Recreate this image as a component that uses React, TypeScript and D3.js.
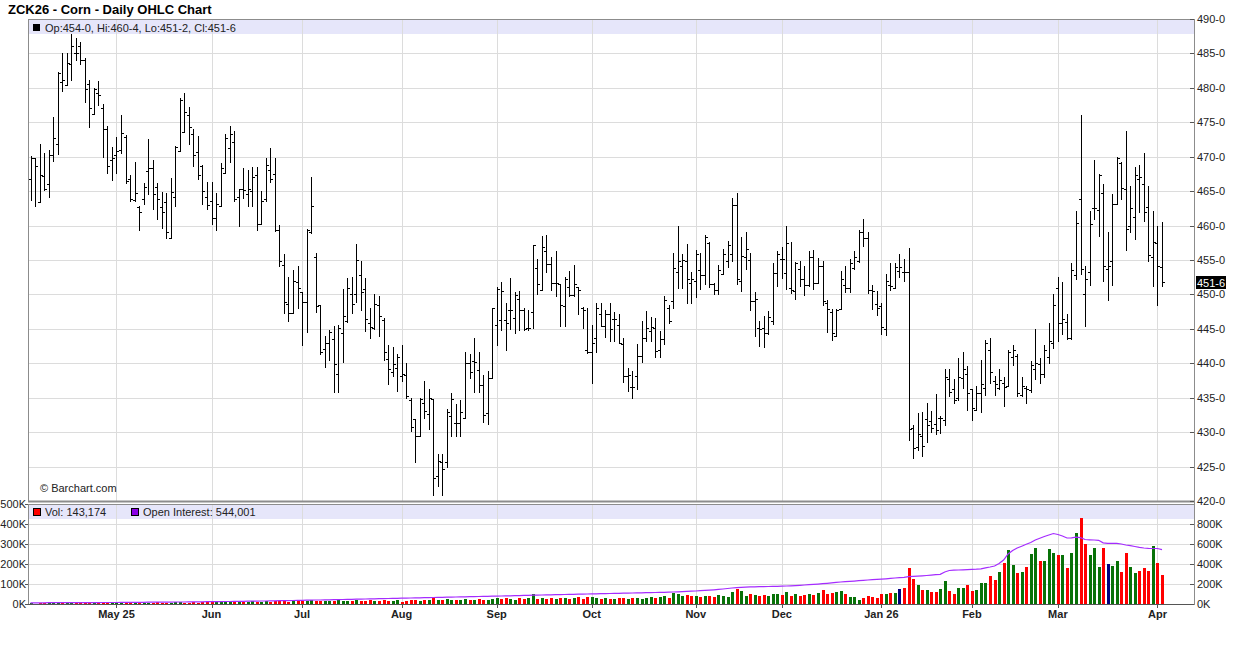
import React from "react";
import * as d3 from "d3";

// ---------- calendar (categories) ----------
const startDay = "2025-04-03";
const endDay = "2026-04-02";
const holidays = [
  "2025-04-18", "2025-05-26", "2025-06-19", "2025-07-04", "2025-09-01",
  "2025-11-27", "2025-12-25", "2026-01-01", "2026-01-19", "2026-02-16",
];
const monthTickLabels = ["May 25", "Jun", "Jul", "Aug", "Sep", "Oct", "Nov", "Dec", "Jan 26", "Feb", "Mar", "Apr"];

// ---------- OHLC (cents/bushel) ----------
const opens = [
  466.7, 469.8, 463.4, 467.2, 466.0, 470.3, 471.9, 480.9, 480.4, 483.4,
  485.0, 486.1, 484.0, 480.5, 476.2, 479.3, 477.1, 474.0, 469.5, 470.3,
  471.0, 472.8, 466.7, 463.7, 462.7, 463.9, 467.9, 468.4, 465.6, 462.7,
  463.4, 458.2, 464.2, 470.8, 473.6, 476.1, 473.3, 470.7, 468.7, 464.2,
  463.5, 461.1, 462.9, 467.7, 471.2, 472.1, 464.2, 465.3, 464.6, 465.0,
  467.3, 460.3, 463.9, 468.1, 467.5, 459.4, 454.3, 448.6, 447.3, 451.8,
  450.3, 448.9, 459.1, 455.5, 448.4, 442.1, 443.0, 443.5, 438.5, 444.4,
  446.2, 450.1, 450.1, 452.8, 450.8, 445.8, 445.1, 448.4, 446.3, 440.6,
  438.7, 439.3, 438.1, 438.3, 434.7, 431.9, 429.4, 434.3, 432.6, 434.8,
  423.6, 425.6, 425.6, 432.4, 431.3, 431.3, 432.0, 440.0, 440.3, 439.0,
  436.8, 432.8, 437.9, 445.5, 446.3, 446.3, 447.7, 446.6, 449.3, 447.7,
  445.1, 447.4, 453.9, 450.6, 456.3, 454.4, 451.6, 451.5, 448.3, 451.1,
  449.9, 451.1, 448.1, 441.9, 441.6, 443.6, 447.2, 445.4, 447.1, 446.4,
  445.5, 442.8, 438.1, 436.5, 438.1, 441.0, 443.7, 444.7, 445.1, 442.0,
  443.5, 448.0, 449.0, 453.2, 454.2, 454.9, 451.7, 452.0, 453.5, 452.8,
  457.4, 451.5, 450.6, 453.0, 454.8, 455.9, 463.0, 452.0, 455.4, 455.0,
  449.0, 445.1, 445.1, 444.4, 446.2, 453.1, 455.1, 453.1, 451.0, 450.5,
  453.7, 452.2, 451.3, 455.4, 451.7, 454.2, 448.7, 447.5, 444.0, 447.9,
  451.3, 450.9, 453.9, 454.8, 459.0, 458.2, 450.7, 448.6, 448.3, 445.0,
  451.4, 450.9, 453.4, 453.2, 453.2, 430.6, 427.9, 429.5, 431.9, 431.6,
  431.2, 432.0, 431.8, 437.7, 436.3, 435.0, 437.8, 438.4, 436.3, 433.2,
  435.7, 436.4, 442.0, 437.4, 436.4, 437.1, 436.7, 440.9, 441.1, 435.4,
  436.4, 436.1, 439.1, 439.9, 438.4, 440.9, 443.0, 451.0, 445.8, 446.0,
  443.7, 452.8, 463.9, 450.0, 453.2, 462.5, 462.2, 464.7, 453.7, 454.8,
  463.2, 469.1, 465.3, 460.0, 461.2, 466.7, 466.0, 462.7, 455.4, 457.5,
  454.0,
];
const highs = [
  470.1, 469.8, 471.8, 470.5, 471.0, 475.8, 482.3, 485.0, 485.0, 487.8,
  487.2, 486.7, 484.4, 481.2, 480.0, 481.0, 477.7, 474.5, 471.4, 472.9,
  476.0, 473.1, 467.4, 469.2, 462.9, 466.2, 472.6, 469.5, 466.2, 464.9,
  464.7, 466.9, 471.5, 478.5, 479.3, 477.2, 474.0, 473.0, 468.8, 466.3,
  466.3, 464.7, 469.1, 473.3, 474.4, 473.7, 465.3, 468.4, 468.1, 468.5,
  468.5, 465.0, 469.8, 471.2, 469.8, 460.1, 455.9, 452.5, 453.5, 454.2,
  450.4, 459.5, 467.0, 456.0, 448.4, 444.0, 444.8, 445.4, 445.6, 450.8,
  452.4, 452.6, 457.3, 454.8, 452.4, 448.0, 450.1, 449.7, 446.6, 442.7,
  442.3, 441.3, 442.7, 440.0, 435.0, 431.9, 435.0, 437.5, 436.2, 434.8,
  426.8, 426.8, 433.4, 435.7, 434.1, 434.7, 441.6, 441.4, 443.6, 441.7,
  438.3, 438.9, 448.0, 451.1, 451.8, 448.7, 452.4, 450.4, 450.5, 448.0,
  447.8, 457.2, 455.1, 458.5, 458.7, 455.5, 456.3, 451.5, 452.6, 453.4,
  454.3, 451.1, 448.2, 448.0, 445.6, 448.7, 448.7, 447.7, 448.7, 447.4,
  447.2, 443.7, 439.3, 438.9, 442.8, 446.2, 447.6, 446.7, 446.6, 444.7,
  449.7, 448.4, 456.0, 459.9, 455.9, 457.3, 453.2, 456.4, 456.0, 458.6,
  457.6, 451.6, 454.3, 456.6, 457.7, 464.0, 464.7, 458.3, 459.0, 456.0,
  450.3, 446.2, 446.8, 447.6, 454.5, 456.3, 456.9, 460.0, 457.6, 454.7,
  454.8, 454.2, 456.3, 456.5, 455.3, 454.8, 449.2, 447.9, 447.9, 453.4,
  454.1, 455.2, 456.3, 459.3, 461.0, 459.0, 451.3, 450.5, 448.8, 453.0,
  454.5, 454.5, 455.8, 455.2, 456.7, 431.1, 432.8, 432.9, 434.3, 433.0,
  435.6, 432.3, 439.2, 439.2, 437.7, 440.8, 441.7, 439.6, 436.3, 436.7,
  440.5, 443.4, 443.7, 438.1, 439.1, 438.0, 442.0, 442.7, 441.3, 438.0,
  436.7, 440.3, 445.0, 440.8, 442.7, 445.9, 450.0, 452.6, 451.8, 447.1,
  454.5, 462.1, 476.1, 454.1, 462.1, 469.5, 467.5, 466.0, 459.1, 464.6,
  470.0, 469.2, 473.7, 465.8, 468.5, 468.8, 470.5, 465.7, 462.1, 460.0,
  460.5,
];
const lows = [
  463.7, 462.8, 463.4, 465.2, 464.1, 469.4, 470.4, 479.6, 480.4, 481.1,
  484.0, 483.5, 478.0, 474.3, 476.2, 477.5, 470.0, 467.6, 466.6, 467.6,
  470.6, 466.2, 463.6, 463.6, 459.3, 463.1, 464.6, 462.4, 461.0, 459.6,
  458.2, 458.2, 462.9, 470.8, 473.6, 471.8, 468.7, 466.7, 463.1, 462.4,
  460.2, 459.4, 462.9, 467.7, 469.2, 463.5, 460.0, 464.0, 462.9, 462.9,
  459.4, 460.3, 463.5, 466.4, 459.2, 454.2, 447.3, 446.1, 447.3, 448.0,
  442.7, 444.5, 458.9, 447.4, 441.3, 439.5, 440.5, 435.8, 435.8, 440.2,
  446.0, 447.3, 448.9, 447.8, 444.7, 443.7, 445.0, 443.9, 440.5, 437.0,
  438.2, 436.0, 437.4, 435.0, 430.2, 425.6, 429.4, 432.0, 430.5, 420.8,
  422.2, 420.8, 424.9, 429.4, 429.5, 429.5, 432.0, 437.9, 435.8, 435.8,
  431.5, 431.2, 437.9, 442.7, 444.8, 442.0, 445.0, 444.4, 444.9, 444.9,
  444.9, 445.1, 450.0, 450.6, 453.3, 450.7, 449.7, 445.4, 445.4, 449.8,
  449.8, 447.2, 445.1, 441.5, 437.1, 441.7, 445.4, 443.8, 443.2, 443.3,
  442.9, 437.3, 436.0, 435.0, 436.2, 440.2, 443.3, 443.3, 440.9, 440.9,
  442.8, 445.8, 448.0, 451.0, 451.0, 448.8, 448.8, 449.6, 450.8, 451.5,
  451.1, 450.0, 450.0, 453.0, 454.0, 454.9, 451.5, 450.5, 453.7, 447.8,
  444.0, 442.5, 442.3, 444.3, 445.7, 451.2, 452.4, 450.8, 450.2, 449.4,
  451.2, 449.9, 451.2, 450.8, 451.7, 448.4, 444.6, 443.4, 443.9, 447.9,
  450.4, 450.4, 453.7, 454.7, 457.1, 450.2, 447.9, 447.0, 444.3, 444.1,
  450.7, 450.9, 452.6, 451.9, 428.8, 426.2, 427.4, 426.5, 428.5, 430.0,
  429.8, 429.9, 431.1, 435.2, 434.2, 434.6, 436.4, 433.2, 431.7, 433.2,
  432.9, 435.4, 437.2, 435.4, 436.3, 433.8, 436.7, 439.7, 435.2, 435.2,
  434.2, 435.9, 437.7, 437.2, 438.0, 440.1, 442.2, 443.3, 444.3, 443.5,
  443.5, 452.2, 452.9, 445.4, 451.4, 461.0, 458.5, 452.0, 449.2, 451.4,
  463.2, 463.9, 456.5, 459.0, 458.0, 462.0, 460.7, 454.9, 451.2, 448.4,
  451.25,
];
const closes = [
  469.8, 468.7, 467.3, 465.3, 470.2, 472.7, 482.2, 481.1, 483.6, 486.1,
  485.1, 484.1, 479.8, 477.1, 479.9, 479.0, 474.0, 468.7, 469.8, 470.8,
  473.5, 466.5, 463.8, 464.7, 462.0, 465.6, 468.4, 464.6, 463.8, 462.0,
  459.0, 464.9, 471.4, 478.2, 476.5, 474.3, 470.2, 467.4, 465.0, 463.0,
  461.1, 463.2, 468.3, 472.7, 473.3, 463.9, 465.3, 465.2, 465.3, 467.0,
  460.3, 463.5, 468.8, 466.7, 459.4, 454.8, 448.9, 447.3, 452.0, 450.9,
  448.9, 459.4, 462.9, 448.3, 441.7, 443.0, 444.5, 439.9, 445.1, 446.9,
  451.0, 448.6, 455.0, 450.3, 446.5, 445.3, 448.6, 446.8, 441.6, 439.2,
  439.9, 440.9, 438.5, 435.2, 430.8, 429.5, 434.8, 433.0, 435.0, 423.3,
  425.8, 424.6, 432.9, 434.8, 431.3, 432.9, 440.0, 438.8, 440.2, 436.8,
  432.5, 437.9, 448.0, 450.8, 450.5, 445.9, 447.7, 449.9, 447.7, 445.0,
  445.1, 457.2, 451.5, 456.9, 454.4, 451.6, 451.7, 448.5, 452.3, 449.9,
  451.5, 450.6, 447.8, 441.6, 442.9, 448.0, 445.4, 447.2, 445.0, 446.4,
  442.9, 438.1, 438.3, 436.5, 441.0, 443.7, 445.1, 445.3, 441.8, 443.5,
  449.2, 446.2, 453.8, 454.9, 455.0, 452.3, 452.2, 455.9, 452.8, 458.4,
  451.5, 450.6, 453.5, 455.9, 457.2, 463.0, 452.3, 455.6, 456.6, 449.0,
  449.3, 445.0, 444.4, 446.7, 453.1, 455.8, 455.1, 457.5, 450.7, 454.6,
  452.2, 451.3, 455.4, 451.7, 454.1, 449.0, 447.9, 444.4, 447.8, 452.2,
  450.9, 454.5, 455.5, 459.0, 458.2, 450.7, 450.5, 448.1, 445.3, 452.0,
  451.2, 454.0, 454.0, 453.2, 430.4, 427.7, 429.7, 428.0, 431.0, 430.6,
  430.3, 432.0, 438.0, 435.9, 434.7, 438.0, 439.1, 435.7, 433.5, 435.7,
  437.0, 443.0, 438.7, 437.0, 437.6, 436.6, 441.6, 441.9, 435.7, 436.7,
  436.3, 439.8, 440.1, 438.4, 442.0, 443.3, 448.5, 445.8, 446.5, 443.7,
  453.5, 460.4, 453.7, 452.3, 460.3, 462.5, 467.3, 454.1, 454.1, 463.2,
  469.8, 465.5, 459.5, 462.5, 467.3, 467.0, 462.0, 455.7, 457.6, 454.2,
  451.75,
];

// ---------- volume & open interest (thousands of contracts) ----------
const volumeK = [
  3, 2, 4, 3, 3, 5, 6, 4, 3, 5, 4, 3, 5, 4, 3, 4, 6, 5, 4,
  5, 4, 6, 5, 4, 7, 6, 5, 6, 8, 7, 5, 6, 9, 8, 7, 6, 8, 7, 9, 8,
  12, 10, 13, 11, 9, 14, 10, 12, 11, 13, 10, 12, 15, 11, 13, 16, 14, 12, 15, 13,
  16, 14, 18, 13, 15, 17, 14, 16, 19, 15, 14, 17, 20, 16, 15, 18, 14, 17, 19, 16, 15, 18,
  12, 16, 18, 20, 17, 22, 19, 35, 21, 18, 23, 20, 19, 22, 25, 21, 18, 24, 20, 22, 26,
  28, 24, 30, 26, 22, 28, 25, 32, 50, 27, 30, 26, 29, 24, 31, 28, 26, 30, 33, 25, 35,
  35, 28, 26, 30, 24, 27, 32, 29, 25, 28, 31, 27, 30, 34, 28, 33, 38, 30, 55, 50, 40, 45, 38,
  40, 35, 42, 38, 34, 45, 40, 37, 60, 75, 65, 42, 50, 44, 39, 46, 41, 48, 52,
  45, 58, 42, 50, 38, 46, 52, 44, 55, 70, 48, 53, 58,
  65, 50, 35, 35, 20, 30, 40, 35, 30, 50, 50, 55, 55, 75, 80, 180, 125, 95, 70, 70,
  60, 60, 75, 115, 65, 50, 80, 80, 95, 65, 70, 105, 105, 140, 120, 160, 205, 270, 195, 155,
  160, 185, 250, 280, 215, 215, 275, 255, 245, 245, 180, 255, 355, 432, 300, 245, 280, 185, 280, 200,
  190, 215, 160, 255, 185, 155, 165, 180, 165, 290, 205, 143.174,
];
const openInterestK = [
  12, 12, 12, 12, 13, 13, 13, 13, 13, 13, 14, 14, 14, 14, 14, 14, 15, 15, 15,
  15, 16, 16, 16, 17, 17, 17, 18, 18, 18, 19, 19, 19, 20, 20, 20, 21, 21, 22, 22, 23,
  23, 24, 24, 25, 25, 26, 27, 27, 28, 28, 29, 30, 30, 31, 32, 33, 33, 34, 35, 36,
  37, 38, 39, 40, 40, 41, 42, 43, 44, 45, 46, 47, 48, 49, 50, 51, 52, 53, 54, 55, 56, 57,
  58, 59, 60, 61, 62, 63, 64, 65, 66, 67, 68, 69, 70, 71, 72, 73, 74, 75, 76, 77, 78,
  79, 80, 81, 82, 83, 84, 86, 87, 88, 89, 90, 91, 92, 93, 94, 95, 96, 97, 98, 99, 100,
  101, 102, 103, 104, 105, 106, 107, 108, 109, 110, 111, 112, 113, 114, 115, 116, 117, 118, 120, 122, 124, 126, 128,
  130, 133, 136, 139, 142, 146, 150, 155, 160, 164, 167, 169, 171, 172, 173, 174, 175, 176, 177,
  178, 180, 182, 184, 187, 190, 193, 196, 199, 203, 207, 211, 216,
  220, 223, 226, 229, 233, 236, 240, 243, 246, 249, 252, 256, 260, 264, 267,
  273, 276, 279, 282, 285, 289, 293, 297, 320, 335, 338, 340, 342, 344, 346, 348, 352,
  362, 370, 380, 405, 440, 500, 535, 560, 578, 597, 615, 640, 658, 675, 690,
  705, 695, 680, 660, 662, 668, 664, 645, 642, 640, 637, 612, 606, 606, 607,
  600, 590, 583, 575, 566, 560, 556, 555, 555, 544.001,
];

const priceTicks = [420, 425, 430, 435, 440, 445, 450, 455, 460, 465, 470, 475, 480, 485, 490];
const volTicks = [0, 100, 200, 300, 400, 500];
const oiTicks = [0, 200, 400, 600, 800];

// ---------- helpers ----------
function tradingDays(): Date[] {
  const out: Date[] = [];
  const hol = new Set(holidays);
  const d = new Date(startDay + "T00:00:00Z");
  const end = new Date(endDay + "T00:00:00Z");
  while (d <= end) {
    const wd = d.getUTCDay();
    const key = d.toISOString().slice(0, 10);
    if (wd !== 0 && wd !== 6 && !hol.has(key)) out.push(new Date(d));
    d.setUTCDate(d.getUTCDate() + 1);
  }
  return out;
}
const fmtPrice = (v: number) => {
  const w = Math.floor(v + 1e-9);
  return `${w}-${Math.round((v - w) * 8)}`;
};
const fmtInt = d3.format(",");

const FONT = "'Liberation Sans', Arial, Helvetica, sans-serif";
const GREEN = "#087208";
const RED = "#ff0000";
const NAVY = "#000080";
const PURPLE = "#a52cff";
const GRID = "#dcdcdc";
const BORDER = "#8c8c8c";
const BAND = "#e6e6fa";

export default function App() {
  const n = closes.length;
  const dates = tradingDays();

  const L = 28;
  const R = 1194;
  const pTop = 19;
  const pBot = 501;
  const vTop = 504;
  const vBot = 604;

  const x = d3.scaleLinear().domain([0, n - 1]).range([30.5, 1162]);
  const yP = d3.scaleLinear().domain([420, 490]).range([pBot, pTop]);
  const yV = d3.scaleLinear().domain([0, 500]).range([vBot, vTop]);
  const yOI = d3.scaleLinear().domain([0, 1000]).range([vBot, vTop]);

  const monthIdx: number[] = [];
  for (let i = 1; i < dates.length; i++) {
    if (dates[i].getUTCMonth() !== dates[i - 1].getUTCMonth()) monthIdx.push(i);
  }

  // OHLC path
  let ohlc = "";
  for (let i = 0; i < n; i++) {
    const cx = Math.round(x(i));
    const xc = cx + 0.5;
    const yh = Math.round(yP(highs[i]));
    const yl = Math.round(yP(lows[i])) + 1;
    const yo = Math.round(yP(opens[i])) + 0.5;
    const yc = Math.round(yP(closes[i])) + 0.5;
    ohlc += `M${xc},${yh}V${yl}M${cx - 2},${yo}H${cx}M${cx + 1},${yc}H${cx + 3}`;
  }

  const volColor = (i: number) => {
    if (i === 0) return GREEN;
    if (closes[i] > closes[i - 1]) return GREEN;
    if (closes[i] < closes[i - 1]) return RED;
    return NAVY;
  };

  const oiLine = d3
    .line<number>()
    .x((_, i) => x(i))
    .y((d) => yOI(d))(openInterestK) as string;

  const last = n - 1;
  const hl = (v: number) => Math.round(v) + 0.5;

  return (
    <svg
      width={1236}
      height={645}
      style={{ position: "absolute", left: 0, top: 0, display: "block", background: "#fff" }}
      fontFamily={FONT}
    >
      <rect x={0} y={0} width={1236} height={645} fill="#fff" />
      {/* title */}
      <text x={8} y={14} fontSize={13} fontWeight="bold" fill="#000">
        ZCK26 - Corn - Daily OHLC Chart
      </text>

      {/* header bands */}
      <rect x={L + 1} y={pTop + 1} width={R - L - 1} height={14} fill={BAND} />
      <rect x={L + 1} y={vTop + 1} width={R - L - 1} height={14} fill={BAND} />

      {/* grid: price */}
      {priceTicks
        .filter((t) => t > 420 && t < 490)
        .map((t) => (
          <line key={"pg" + t} x1={L} x2={R} y1={hl(yP(t))} y2={hl(yP(t))} stroke={GRID} strokeWidth={1} />
        ))}
      {/* grid: volume */}
      {volTicks
        .filter((t) => t > 0 && t < 500)
        .map((t) => (
          <line key={"vg" + t} x1={L} x2={R} y1={hl(yV(t))} y2={hl(yV(t))} stroke={GRID} strokeWidth={1} />
        ))}
      {/* vertical grid */}
      {monthIdx.map((i) => (
        <g key={"mg" + i}>
          <line x1={hl(x(i))} x2={hl(x(i))} y1={pTop} y2={pBot} stroke={GRID} strokeWidth={1} />
          <line x1={hl(x(i))} x2={hl(x(i))} y1={vTop} y2={vBot} stroke={GRID} strokeWidth={1} />
        </g>
      ))}

      {/* header legend: price */}
      <rect x={33} y={24} width={7} height={7} fill="#000" />
      <text x={45} y={31.5} fontSize={11} fill="#222">
        {`Op:${fmtPrice(opens[last])}, Hi:${fmtPrice(highs[last])}, Lo:${fmtPrice(lows[last])}, Cl:${fmtPrice(closes[last])}`}
      </text>

      {/* header legend: volume */}
      <rect x={33.5} y={508.5} width={7} height={7} fill={RED} stroke="#000" strokeWidth={1} />
      <text x={45} y={516} fontSize={11} fill="#222">
        {`Vol: ${fmtInt(Math.round(volumeK[last] * 1000))}`}
      </text>
      <rect x={131.5} y={508.5} width={7} height={7} fill="#8a00e6" stroke="#000" strokeWidth={1} />
      <text x={143} y={516} fontSize={11} fill="#222">
        {`Open Interest: ${fmtInt(Math.round(openInterestK[last] * 1000))}`}
      </text>

      {/* OHLC bars */}
      <path d={ohlc} stroke="#000" strokeWidth={1} fill="none" shapeRendering="crispEdges" />

      {/* volume bars */}
      {volumeK.map((v, i) => {
        const top = Math.round(yV(v));
        return (
          <rect
            key={"v" + i}
            x={Math.round(x(i)) - 1}
            y={top}
            width={3}
            height={vBot - top}
            fill={volColor(i)}
            shapeRendering="crispEdges"
          />
        );
      })}

      {/* open interest */}
      <path d={oiLine} stroke={PURPLE} strokeWidth={1.2} fill="none" />

      {/* copyright */}
      <text x={40} y={492} fontSize={11} fill="#222">
        © Barchart.com
      </text>

      {/* panel borders */}
      <rect x={L + 0.5} y={pTop + 0.5} width={R - L} height={pBot - pTop} fill="none" stroke={BORDER} strokeWidth={1} />
      <line x1={L} x2={R + 1} y1={pBot + 0.5} y2={pBot + 0.5} stroke={BORDER} strokeWidth={2} />
      <rect x={L + 0.5} y={vTop + 0.5} width={R - L} height={vBot - vTop} fill="none" stroke={BORDER} strokeWidth={1} />
      <line x1={L} x2={R + 1} y1={vBot + 0.5} y2={vBot + 0.5} stroke="#555" strokeWidth={1} />
      <line x1={R + 0.5} x2={R + 0.5} y1={pTop} y2={vBot + 1} stroke={BORDER} strokeWidth={1} />

      {/* price axis (right) */}
      {priceTicks.map((t) => (
        <g key={"pt" + t}>
          <line x1={R - 4} x2={R} y1={hl(yP(t))} y2={hl(yP(t))} stroke="#555" strokeWidth={1} />
          <text x={R + 3} y={yP(t) + 4} fontSize={11} fill="#222">
            {fmtPrice(t)}
          </text>
        </g>
      ))}

      {/* last price box */}
      <rect x={R + 2} y={Math.round(yP(closes[last])) - 6} width={30} height={13} fill="#000" />
      <text x={R + 3} y={yP(closes[last]) + 4.5} fontSize={11} fill="#fff">
        {fmtPrice(closes[last])}
      </text>

      {/* volume axis (left) */}
      {volTicks.map((t) => (
        <g key={"vt" + t}>
          <line x1={L - 3} x2={L} y1={hl(yV(t))} y2={hl(yV(t))} stroke="#555" strokeWidth={1} />
          <text x={L - 2} y={yV(t) + 4} fontSize={11} fill="#222" textAnchor="end">
            {`${t}K`}
          </text>
        </g>
      ))}

      {/* open interest axis (right) */}
      {oiTicks.map((t) => (
        <g key={"ot" + t}>
          <line x1={R - 4} x2={R} y1={hl(yOI(t))} y2={hl(yOI(t))} stroke="#555" strokeWidth={1} />
          <text x={R + 3} y={yOI(t) + 4} fontSize={11} fill="#222">
            {`${t}K`}
          </text>
        </g>
      ))}

      {/* x axis */}
      {monthIdx.map((i, k) => (
        <g key={"xt" + i}>
          <line x1={hl(x(i))} x2={hl(x(i))} y1={vBot} y2={vBot + 4} stroke="#555" strokeWidth={1} />
          <text x={x(i)} y={618} fontSize={11} fontWeight="bold" fill="#222" textAnchor="middle">
            {monthTickLabels[k]}
          </text>
        </g>
      ))}
    </svg>
  );
}
